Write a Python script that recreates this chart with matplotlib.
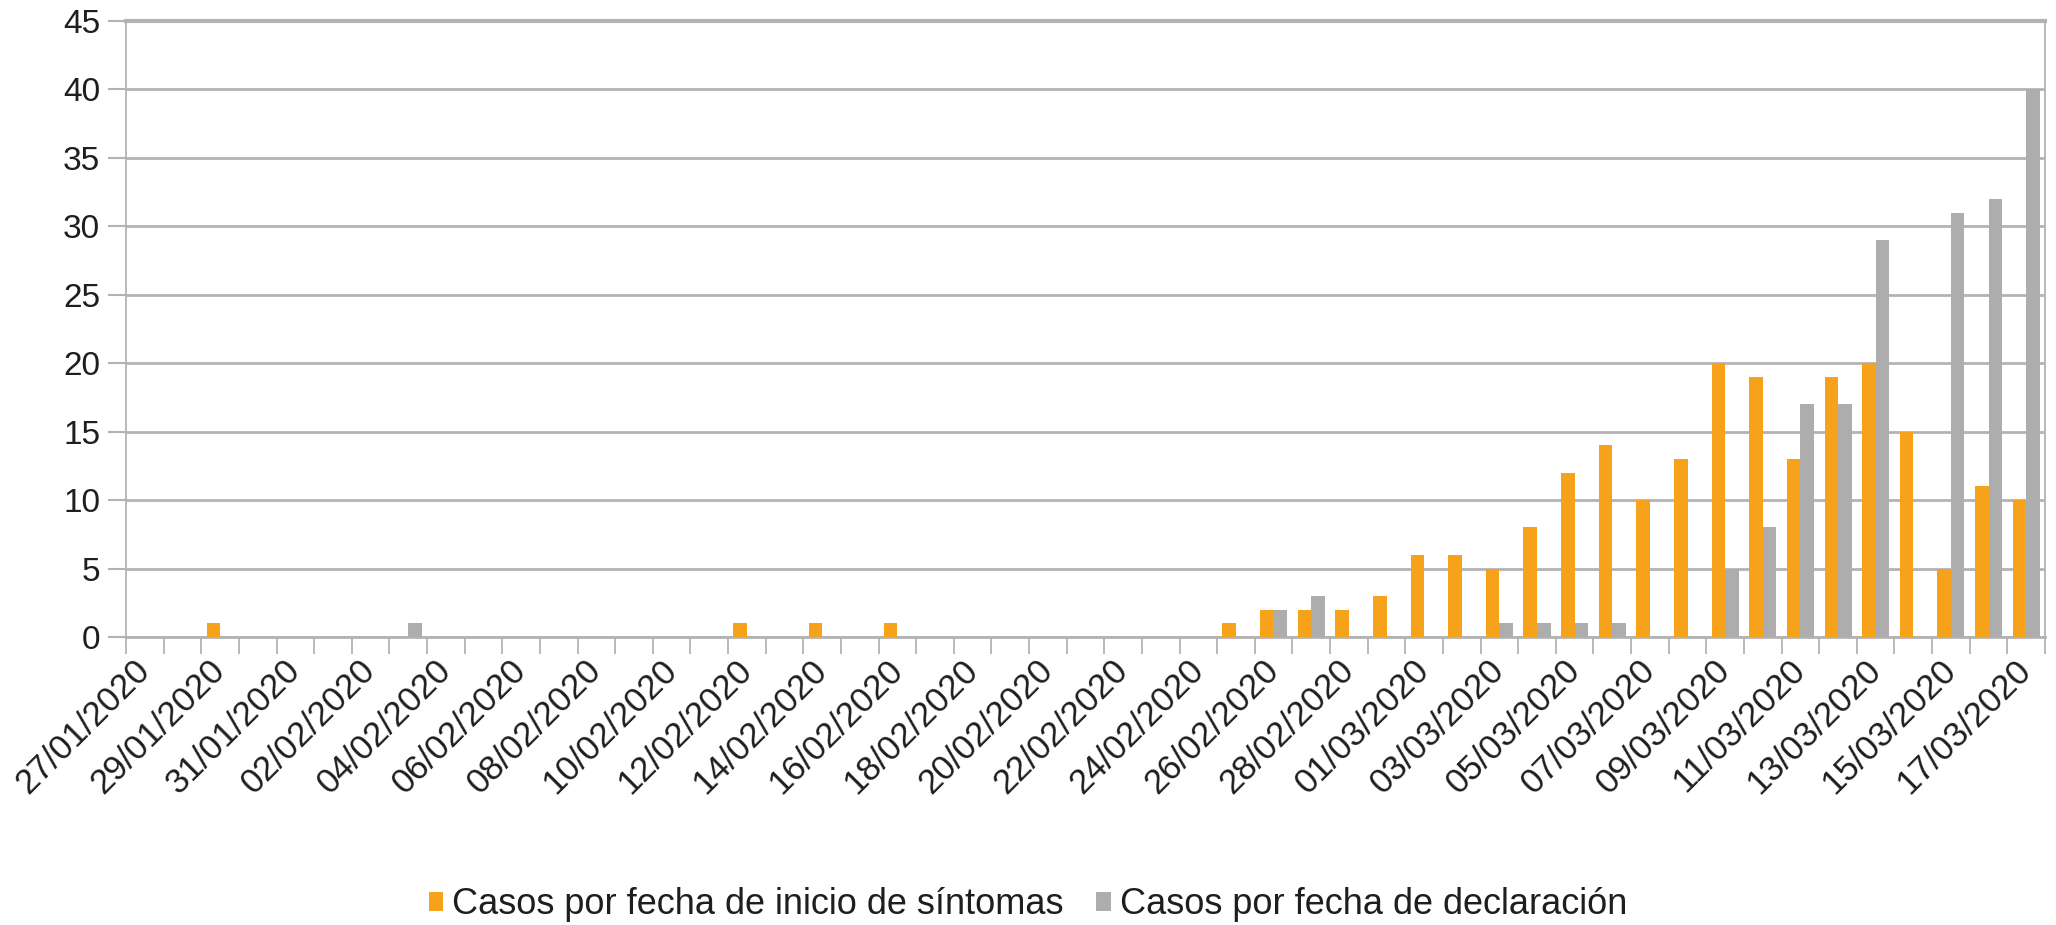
import matplotlib
matplotlib.use("Agg")
import matplotlib.pyplot as plt
import numpy as np
from matplotlib.patches import Patch

plt.rcParams['font.family'] = ['Liberation Sans', 'DejaVu Sans']

fechas = [
    "27/01/2020", "28/01/2020", "29/01/2020", "30/01/2020", "31/01/2020",
    "01/02/2020", "02/02/2020", "03/02/2020", "04/02/2020", "05/02/2020",
    "06/02/2020", "07/02/2020", "08/02/2020", "09/02/2020", "10/02/2020",
    "11/02/2020", "12/02/2020", "13/02/2020", "14/02/2020", "15/02/2020",
    "16/02/2020", "17/02/2020", "18/02/2020", "19/02/2020", "20/02/2020",
    "21/02/2020", "22/02/2020", "23/02/2020", "24/02/2020", "25/02/2020",
    "26/02/2020", "27/02/2020", "28/02/2020", "29/02/2020", "01/03/2020",
    "02/03/2020", "03/03/2020", "04/03/2020", "05/03/2020", "06/03/2020",
    "07/03/2020", "08/03/2020", "09/03/2020", "10/03/2020", "11/03/2020",
    "12/03/2020", "13/03/2020", "14/03/2020", "15/03/2020", "16/03/2020",
    "17/03/2020",
]

casos_sintomas = [
    0, 0, 1, 0, 0, 0, 0, 0, 0, 0,
    0, 0, 0, 0, 0, 0, 1, 0, 1, 0,
    1, 0, 0, 0, 0, 0, 0, 0, 0, 1,
    2, 2, 2, 3, 6, 6, 5, 8, 12, 14,
    10, 13, 20, 19, 13, 19, 20, 15, 5, 11,
    10,
]

casos_declaracion = [
    0, 0, 0, 0, 0, 0, 0, 1, 0, 0,
    0, 0, 0, 0, 0, 0, 0, 0, 0, 0,
    0, 0, 0, 0, 0, 0, 0, 0, 0, 0,
    2, 3, 0, 0, 0, 0, 1, 1, 1, 1,
    0, 0, 5, 8, 17, 17, 29, 0, 31, 32,
    40,
]

series_names = ["Casos por fecha de inicio de síntomas", "Casos por fecha de declaración"]
colors = ["#F7A21B", "#ADADAD"]
grid_color = "#B3B3B3"
text_color = "#1E1E1E"

W, H = 2056, 925
fig = plt.figure(figsize=(W / 100, H / 100), dpi=100)
left, right = 126 / W, 2045 / W
bottom, top = 1 - 637 / H, 1 - 21 / H
ax = fig.add_axes([left, bottom, right - left, top - bottom])

n = len(fechas)
x = np.arange(n)
bw = 0.36
ax.bar(x - bw / 2, casos_sintomas, width=bw, color=colors[0], zorder=3, linewidth=0)
ax.bar(x + bw / 2, casos_declaracion, width=bw, color=colors[1], zorder=3, linewidth=0)

ax.set_xlim(-0.5, n - 0.5)
ax.set_ylim(0, 45)
ax.set_yticks(np.arange(0, 46, 5))
ax.yaxis.grid(True, color=grid_color, linewidth=2, zorder=1)
ax.set_axisbelow(True)

# tick marks at category boundaries, labels every second category
ax.set_xticks(np.arange(-0.5, n, 1.0), minor=True)
ax.set_xticks(x[::2])
ax.set_xticklabels([fechas[i] for i in range(0, n, 2)], rotation=45,
                   ha='right', va='center', rotation_mode='anchor')
ax.tick_params(axis='x', which='major', length=0, pad=20, labelsize=25, labelcolor=text_color)
ax.tick_params(axis='x', which='minor', length=12, width=1.3, color=grid_color)
ax.tick_params(axis='y', length=13, width=1.5, color=grid_color, labelsize=24,
               labelcolor=text_color, pad=5.5)

for s in ['left', 'right', 'bottom']:
    ax.spines[s].set_color(grid_color)
    ax.spines[s].set_linewidth(1.3)
ax.spines['bottom'].set_linewidth(2)
ax.spines['top'].set_color(grid_color)
ax.spines['top'].set_linewidth(3)

handles = [Patch(facecolor=c, edgecolor='none') for c in colors]
fig.legend(handles, series_names, loc='center', bbox_to_anchor=(0.5, 1 - 905 / H),
           ncol=2, frameon=False, fontsize=26, handlelength=0.4, handleheight=0.45,
           handletextpad=0.25, columnspacing=0.9, labelcolor=text_color)

fig.savefig("out.png", dpi=100)
